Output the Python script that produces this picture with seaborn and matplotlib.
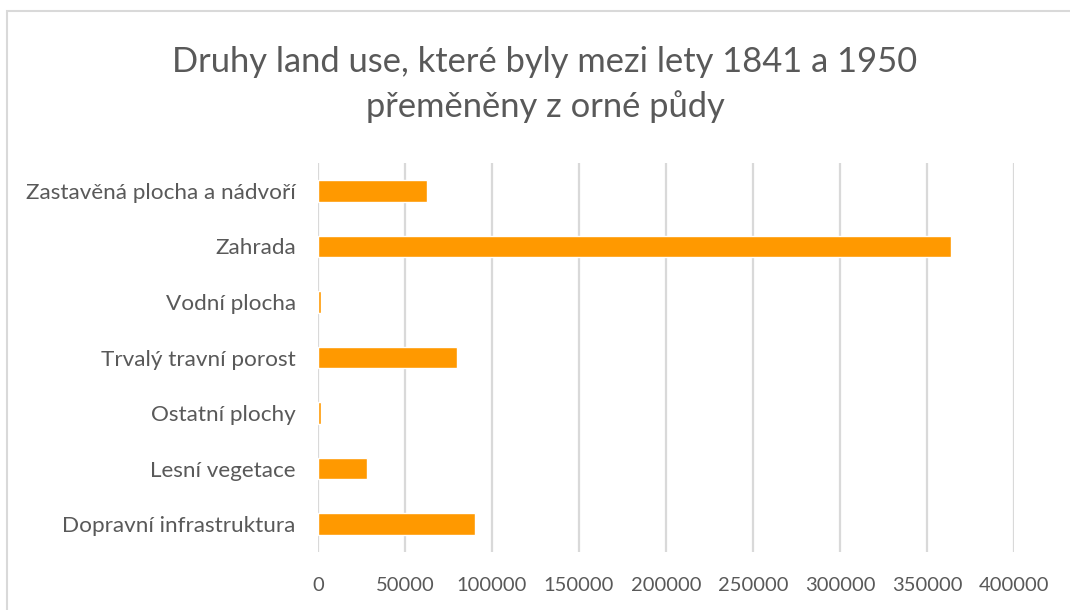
import matplotlib
matplotlib.use('Agg')
import pandas as pd
import seaborn as sns
import matplotlib.pyplot as plt
from matplotlib.patches import Rectangle

# data (top to bottom)
kategorie = [
    'Zastavěná plocha a nádvoří',
    'Zahrada',
    'Vodní plocha',
    'Trvalý travní porost',
    'Ostatní plochy',
    'Lesní vegetace',
    'Dopravní infrastruktura',
]
plocha = [62500, 364000, 1800, 79700, 1800, 28300, 90200]
x_ticks = [0, 50000, 100000, 150000, 200000, 250000, 300000, 350000, 400000]

df = pd.DataFrame({'kategorie': kategorie, 'plocha': plocha})

sns.set_style('white')
plt.rcParams['font.family'] = ['Lato', 'DejaVu Sans']
text_color = '#595959'
grid_color = '#d9d9d9'

fig = plt.figure(figsize=(10.7, 6.1), dpi=100)
ax = fig.add_axes([318 / 1070, 1 - 552 / 610, (1014 - 318) / 1070, (552 - 163) / 610])

sns.barplot(data=df, x='plocha', y='kategorie', color='#ff9900', saturation=1,
            width=0.39, ax=ax, zorder=3)

ax.set_xlim(0, 400000)
ax.set_xticks(x_ticks)
ax.set_xticklabels([str(t) for t in x_ticks])
ax.xaxis.grid(True, color=grid_color, linewidth=1.6, zorder=0)
ax.set_axisbelow(True)
for s in ax.spines.values():
    s.set_visible(False)
ax.tick_params(axis='both', length=0, colors=text_color)
ax.tick_params(axis='x', pad=18, labelsize=14.5)
ax.tick_params(axis='y', pad=16, labelsize=16.2)
ax.set_xlabel('')
ax.set_ylabel('')

fig.text(545 / 1070, 1 - 62 / 610, 'Druhy land use, které byly mezi lety 1841 a 1950',
         ha='center', va='center', fontsize=24.8, color=text_color)
fig.text(545 / 1070, 1 - 107 / 610, 'přeměněny z orné půdy',
         ha='center', va='center', fontsize=24.8, color=text_color)

# chart frame
fig.patches.append(Rectangle((7 / 1070, -0.05), 1.2, 1 - 11 / 610 + 0.05,
                             transform=fig.transFigure, fill=False,
                             edgecolor=grid_color, linewidth=1.5))

fig.savefig('out.png', dpi=100)
